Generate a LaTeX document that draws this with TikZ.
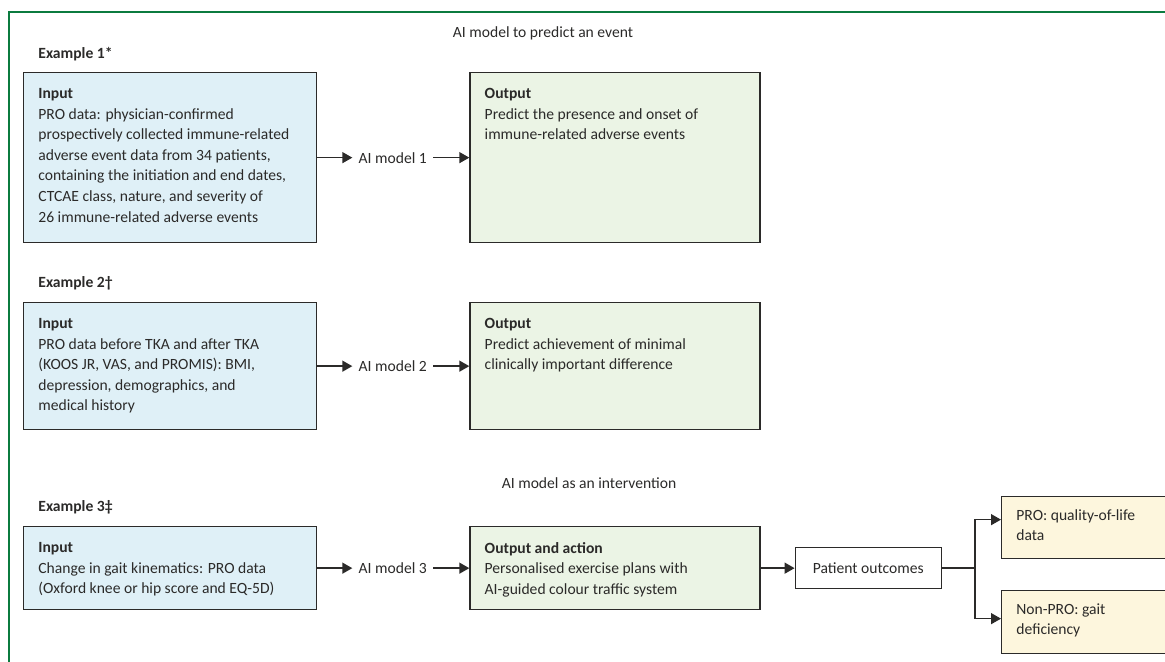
\documentclass[tikz,border=0pt]{standalone}
\usepackage{fontspec}
\setmainfont{Carlito}
\usepackage{xcolor}
\usetikzlibrary{arrows.meta, positioning}

\definecolor{frameGreen}{HTML}{0B7B3F}
\definecolor{inBlue}{HTML}{DFF0F7}
\definecolor{outGreen}{HTML}{EBF4E5}
\definecolor{resYellow}{HTML}{FDF6DD}
\definecolor{lineGrey}{HTML}{2B2A29}

\begin{document}
\begin{tikzpicture}[x=0.5pt, y=-0.5pt, font=\fontsize{7.8}{10.3}\selectfont, text=lineGrey]
    \useasboundingbox (0,0) rectangle (1165,662);
    \clip (0,0) rectangle (1165,662);

    % Block styles
    \tikzstyle{block} = [rectangle, draw=lineGrey, line width=0.65pt, anchor=north west, inner sep=0pt]
    \tikzstyle{inblock} = [block, fill=inBlue, minimum width=146.5pt]
    \tikzstyle{outblock} = [block, fill=outGreen, minimum width=145pt]
    \tikzstyle{resblock} = [block, fill=resYellow, minimum width=100pt, minimum height=31pt]
    \tikzstyle{txt} = [align=left, inner sep=0pt, anchor=north west]
    \tikzstyle{model} = [inner sep=3pt]
    \tikzstyle{arr} = [-{Triangle[length=5pt,width=5.5pt]}, line width=0.7pt, draw=lineGrey]

    % Frame
    \draw[frameGreen, line width=0.75pt] (9,670) -- (9,12) -- (1170,12);

    % Headings
    \node (predict) at (543,33) {AI model to predict an event};
    \node (intervene) at (589,483) {AI model as an intervention};

    % Example 1
    \node[inblock, minimum height=85pt] (in1) at (23,72) {};
    \node[model, right=17.5pt of in1] (ai1) {AI model 1};
    \node[outblock, minimum height=85pt, right=76pt of in1] (out1) {};
    \node[txt, above right=5.5pt and 7.5pt of in1.north west] (ex1) {\textbf{Example 1*}};
    \node[txt, below right=8pt and 7.5pt of in1.north west] (in1txt) {\textbf{Input}\\PRO data: physician-confirmed\\prospectively collected immune-related\\adverse event data from 34 patients,\\containing the initiation and end dates,\\CTCAE class, nature, and severity of\\26 immune-related adverse events};
    \node[txt, below right=8pt and 7.5pt of out1.north west] (out1txt) {\textbf{Output}\\Predict the presence and onset of\\immune-related adverse events};

    % Example 2
    \node[inblock, minimum height=63.5pt] (in2) at (23,302) {};
    \node[model, right=17.5pt of in2] (ai2) {AI model 2};
    \node[outblock, minimum height=63.5pt, right=76pt of in2] (out2) {};
    \node[txt, above right=5.5pt and 7.5pt of in2.north west] (ex2) {\textbf{Example 2†}};
    \node[txt, below right=8pt and 7.5pt of in2.north west] (in2txt) {\textbf{Input}\\PRO data before TKA and after TKA\\(KOOS JR, VAS, and PROMIS): BMI,\\depression, demographics, and\\medical history};
    \node[txt, below right=8pt and 7.5pt of out2.north west] (out2txt) {\textbf{Output}\\Predict achievement of minimal\\clinically important difference};

    % Example 3
    \node[inblock, minimum height=41.5pt] (in3) at (23,526) {};
    \node[model, right=17.5pt of in3] (ai3) {AI model 3};
    \node[outblock, minimum height=41.5pt, right=76pt of in3] (out3) {};
    \node[txt, above right=5.5pt and 7.5pt of in3.north west] (ex3) {\textbf{Example 3‡}};
    \node[txt, below right=8pt and 7.5pt of in3.north west] (in3txt) {\textbf{Input}\\Change in gait kinematics: PRO data\\(Oxford knee or hip score and EQ-5D)};
    \node[txt, below right=8pt and 7.5pt of out3.north west] (out3txt) {\textbf{Output and action}\\Personalised exercise plans with\\AI-guided colour traffic system};

    % Outcomes
    \node[block, fill=white, minimum width=73pt, minimum height=20.5pt, right=17pt of out3] (pat) {Patient outcomes};
    \coordinate[right=16.5pt of pat] (fork);
    \node[resblock] (qol) at (1001,496) {};
    \node[resblock, minimum height=31.5pt] (gait) at (1001,590) {};
    \node[txt, below right=6.5pt and 7.5pt of qol.north west] (qoltxt) {PRO: quality-of-life\\data};
    \node[txt, below right=6.5pt and 7.5pt of gait.north west] (gaittxt) {Non-PRO: gait\\deficiency};

    % Connections
    \draw[arr] (in1) -- (ai1);
    \draw[arr] (ai1) -- (out1);
    \draw[arr] (in2) -- (ai2);
    \draw[arr] (ai2) -- (out2);
    \draw[arr] (in3) -- (ai3);
    \draw[arr] (ai3) -- (out3);
    \draw[arr] (out3) -- (pat);
    \draw[line width=0.7pt, lineGrey] (pat) -- (fork);
    \draw[arr] (fork) |- ([yshift=4pt]qol.west);
    \draw[arr] (fork) |- ([yshift=1.75pt]gait.west);
\end{tikzpicture}
\end{document}
